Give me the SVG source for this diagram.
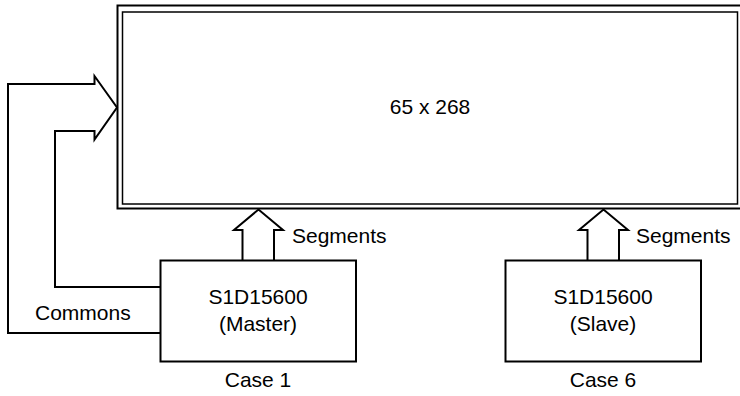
<svg xmlns="http://www.w3.org/2000/svg" width="740" height="396" viewBox="0 0 740 396">
<style>
.t{font-family:"Liberation Sans",Arial,sans-serif;font-size:21px;fill:#000}
.m{text-anchor:middle}
.box{fill:#fff;stroke:#000;stroke-width:2}
.conn{fill:#fff;stroke:#000;stroke-width:2;stroke-linejoin:miter}
</style>
<rect width="740" height="396" fill="#fff"/>
<g id="display">
<rect x="117.5" y="5.5" width="630" height="203" fill="#fff" stroke="#000" stroke-width="2"/>
<rect x="122.5" y="12" width="615" height="192" fill="none" stroke="#000" stroke-width="1.5"/>
<text class="t m" x="430" y="114">65 x 268</text>
</g>
<g id="connectors">
<path class="conn" fill="none" d="M160,333 H8 V84 H94.5 V76 L117,107.5 L94.5,139.5 V131 H55 V287 H160" style="fill:none"/>
<path class="conn" d="M242.5,261 V230 H234 L258.5,209.5 L283,230 H274 V261"/>
<path class="conn" d="M587.5,261 V230 H579 L603.5,209.5 L628,230 H619 V261"/>
<text class="t" x="35" y="320">Commons</text>
<text class="t" x="292" y="243">Segments</text>
<text class="t" x="636" y="243">Segments</text>
</g>
<g id="master">
<rect class="box" x="160.5" y="260.5" width="195.5" height="101"/>
<text class="t m" x="258" y="304">S1D15600</text>
<text class="t m" x="258" y="331">(Master)</text>
<text class="t m" x="258" y="387">Case 1</text>
</g>
<g id="slave">
<rect class="box" x="505.5" y="260.5" width="195.5" height="101"/>
<text class="t m" x="603" y="304">S1D15600</text>
<text class="t m" x="603" y="331">(Slave)</text>
<text class="t m" x="603" y="387">Case 6</text>
</g>
</svg>
